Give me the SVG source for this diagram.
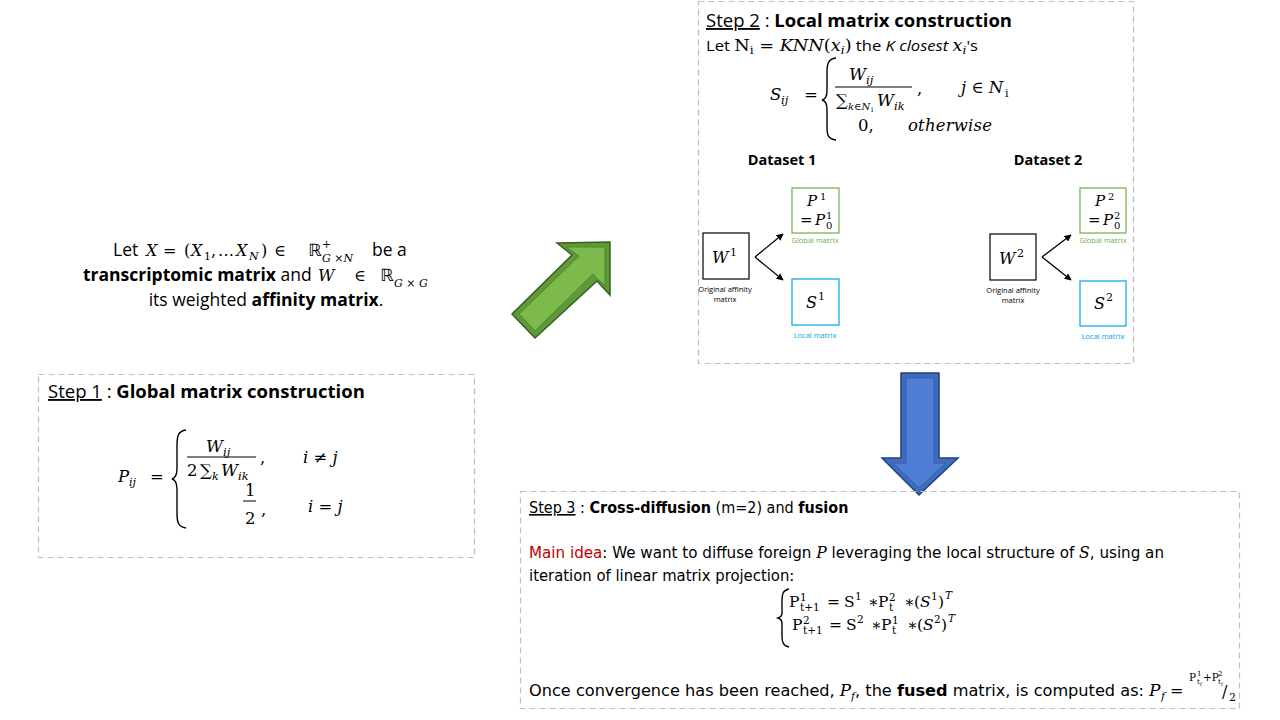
<svg xmlns="http://www.w3.org/2000/svg" width="1280" height="720" viewBox="0 0 1280 720">
<defs>
<style>
.frame{fill:none;stroke:#bfbfbf;stroke-width:1.2;stroke-dasharray:6 4}
.sans{font-family:"Open Sans","Noto Sans","Liberation Sans",sans-serif;fill:#000}
.narrow{font-family:"Liberation Sans Narrow","DejaVu Sans Condensed","Liberation Sans",sans-serif;font-stretch:condensed;fill:#000}
.math{font-family:"DejaVu Serif","Liberation Serif",serif;fill:#000}
.ds{font-family:"DejaVu Sans","Liberation Sans",sans-serif}
.it{font-style:italic}
.b{font-weight:bold}
.u{text-decoration:underline}
.brace{fill:none;stroke:#000;stroke-width:1.4}
.frac{stroke:#000;stroke-width:1}
.box{fill:#fff;stroke:#000;stroke-width:1.2}
.gbox{fill:#fff;stroke:#70ad47;stroke-width:1.2}
.bbox{fill:#fff;stroke:#00a2e8;stroke-width:1.2}
.lbl{font-family:"Open Sans","Noto Sans","Liberation Sans",sans-serif;font-size:7.5px;text-anchor:middle}
.conn{stroke:#000;stroke-width:1.3;fill:none;marker-end:url(#ah)}
</style>
<marker id="ah" viewBox="0 0 10 10" refX="9" refY="5" markerWidth="7" markerHeight="7" orient="auto" markerUnits="userSpaceOnUse">
<path d="M0,0 L10,5 L0,10 z" fill="#000"/>
</marker>
</defs>
<rect width="1280" height="720" fill="#fff"/>

<!-- Intro text -->
<g id="intro">
<text class="sans" x="113" y="256" font-size="17.5">Let</text>
<g class="math" font-size="16">
<text class="it" x="146" y="256">X</text>
<text x="163" y="256">=</text>
<text x="184" y="256">(</text>
<text class="it" x="191" y="256">X</text>
<text x="204" y="260" font-size="11">1</text>
<text x="211" y="256">,</text>
<text x="218" y="256">…</text>
<text class="it" x="236" y="256">X</text>
<text class="it" x="249" y="260" font-size="11">N</text>
<text x="261" y="256">)</text>
<text x="274" y="256">∈</text>
<text class="ds" x="308" y="256" font-size="17">ℝ</text>
<text x="322" y="248" font-size="11">+</text>
<text class="it" x="322" y="262" font-size="11">G ×N</text>
</g>
<text class="sans" x="372" y="256" font-size="17.5">be a</text>
<text class="sans" x="83" y="281" font-size="17.5"><tspan class="b">transcriptomic matrix</tspan> and</text>
<g class="math" font-size="16">
<text class="it" x="318" y="281">W</text>
<text x="354" y="281">∈</text>
<text class="ds" x="380" y="281" font-size="17">ℝ</text>
<text class="it" x="394" y="287" font-size="11">G × G</text>
</g>
<text class="sans" x="266" y="306" font-size="17.5" text-anchor="middle">its weighted  <tspan class="b">affinity matrix</tspan>.</text>
</g>

<!-- Block arrows -->
<g id="green-arrow">
<polygon points="557,243 610,242 610,295 597,281 535,338 512,314 572,255" fill="#5f9a3a" stroke="#36601d" stroke-width="1.5"/>
<polygon points="566,247 605,247 605,286 593,274 535,331 519,314 579,256" fill="#7cba4c" stroke="#4f8430" stroke-width="1"/>
</g>
<g id="blue-arrow">
<polygon points="901,373 939,373 939,458 958,458 919,495 882,458 901,458" fill="#3f6dbd" stroke="#22427a" stroke-width="1.5"/>
<polygon points="906,378 934,378 934,463 946,463 919,488 893,463 906,463" fill="#4f7fd4" stroke="#3560a8" stroke-width="1"/>
</g>

<!-- Step 1 -->
<g id="step1">
<rect class="frame" x="38.5" y="374.5" width="436" height="183"/>
<text class="sans" x="48" y="398" font-size="18.5"><tspan class="u">Step 1</tspan> : <tspan class="b">Global matrix construction</tspan></text>
<g class="math" font-size="16.5">
<text class="it" x="118" y="482">P</text>
<text class="it" x="129" y="486" font-size="11">ij</text>
<text x="150" y="482">=</text>
<text class="it" x="206" y="452">W</text>
<text class="it" x="223" y="456" font-size="11.5">ij</text>
<text x="187" y="476">2</text>
<text x="200" y="476">∑</text>
<text class="it" x="212" y="480" font-size="11">k</text>
<text class="it" x="221" y="476">W</text>
<text class="it" x="238" y="480" font-size="11.5">ik</text>
<text x="260" y="463">,</text>
<text class="it" x="303" y="463">i ≠ j</text>
<text x="245" y="496">1</text>
<text x="245" y="524">2</text>
<text x="261" y="515">,</text>
<text class="it" x="308" y="512">i = j</text>
</g>
<path class="brace" d="M186,430 C178,431 177,436 177,446 L177,468 C177,474 176,478 172,479 C176,480 177,484 177,490 L177,513 C177,522 178,527 186,528"/>
<line class="frac" x1="187" y1="457" x2="256" y2="457"/>
<line class="frac" x1="243" y1="501" x2="256" y2="501"/>
</g>

<!-- Step 2 -->
<g id="step2">
<rect class="frame" x="698.5" y="1.5" width="435" height="362"/>
<text class="sans" x="706" y="27" font-size="18.5"><tspan class="u">Step 2</tspan> : <tspan class="b">Local matrix construction</tspan></text>
<text class="sans" x="706" y="51" font-size="15" textLength="272" lengthAdjust="spacingAndGlyphs">Let <tspan class="math" font-size="16">N</tspan><tspan class="math" font-size="11" dy="3">i</tspan><tspan class="math" font-size="16" dy="-3"> = </tspan><tspan class="math it" font-size="16">KNN</tspan><tspan class="math" font-size="16">(</tspan><tspan class="math it" font-size="16">x</tspan><tspan class="math it" font-size="11" dy="3">i</tspan><tspan class="math" font-size="16" dy="-3">)</tspan> the <tspan class="it">K closest </tspan><tspan class="math it" font-size="16">x</tspan><tspan class="math it" font-size="11" dy="3">i</tspan><tspan dy="-3">'s</tspan></text>
<g class="math" font-size="16.5">
<text class="it" x="770" y="100">S</text>
<text class="it" x="781" y="104" font-size="11.5">ij</text>
<text x="804" y="100">=</text>
<text class="it" x="849" y="80">W</text>
<text class="it" x="866" y="84" font-size="11.5">ij</text>
<text x="836" y="106">∑</text>
<text class="it" x="848" y="110" font-size="10">k∈N</text>
<text x="871" y="112" font-size="7">i</text>
<text class="it" x="877" y="106">W</text>
<text class="it" x="894" y="110" font-size="11.5">ik</text>
<text x="917" y="94">,</text>
<text class="it" x="961" y="93">j ∈ N</text>
<text x="1005" y="97" font-size="11">i</text>
<text x="858" y="131">0,</text>
<text class="it" x="908" y="131" textLength="84">otherwise</text>
</g>
<path class="brace" d="M836,58 C828,59 827,64 827,73 L827,91 C827,96 826,99 822,100 C826,101 827,104 827,109 L827,127 C827,135 828,139 836,140"/>
<line class="frac" x1="835" y1="87" x2="912" y2="87"/>
<text class="sans b" x="782" y="165" font-size="14.5" text-anchor="middle">Dataset 1</text>
<text class="sans b" x="1048" y="165" font-size="14.5" text-anchor="middle">Dataset 2</text>
</g>

<g id="W1">
<rect class="box" x="703" y="233" width="46" height="46"/>
<text class="math it" x="712" y="263" font-size="16">W</text><text class="math" x="730" y="256" font-size="11">1</text>
<text class="lbl" x="725" y="292">Original affinity</text>
<text class="lbl" x="725" y="302">matrix</text>
</g>
<g id="P1">
<rect class="gbox" x="792" y="188" width="47" height="45"/>
<text class="math it" x="807" y="206" font-size="15">P</text><text class="math" x="820" y="200" font-size="10">1</text>
<text class="math" x="800" y="225" font-size="15">=</text><text class="math it" x="815" y="225" font-size="15">P</text><text class="math" x="826" y="219" font-size="10">1</text><text class="math" x="826" y="229" font-size="10">0</text>
<text class="lbl" x="815" y="243" fill="#70ad47">Global matrix</text>
</g>
<g id="S1">
<rect class="bbox" x="792" y="279" width="47" height="46"/>
<text class="math it" x="806" y="308" font-size="16">S</text><text class="math" x="818" y="300" font-size="11">1</text>
<text class="lbl" x="815" y="338" fill="#00a2e8">Local matrix</text>
</g>
<g id="W2">
<rect class="box" x="990" y="234" width="46" height="46"/>
<text class="math it" x="999" y="264" font-size="16">W</text><text class="math" x="1017" y="257" font-size="11">2</text>
<text class="lbl" x="1013" y="293">Original affinity</text>
<text class="lbl" x="1013" y="303">matrix</text>
</g>
<g id="P2">
<rect class="gbox" x="1080" y="188" width="46" height="45"/>
<text class="math it" x="1095" y="206" font-size="15">P</text><text class="math" x="1108" y="200" font-size="10">2</text>
<text class="math" x="1088" y="225" font-size="15">=</text><text class="math it" x="1103" y="225" font-size="15">P</text><text class="math" x="1114" y="219" font-size="10">2</text><text class="math" x="1114" y="229" font-size="10">0</text>
<text class="lbl" x="1103" y="243" fill="#70ad47">Global matrix</text>
</g>
<g id="S2">
<rect class="bbox" x="1080" y="281" width="46" height="45"/>
<text class="math it" x="1094" y="309" font-size="16">S</text><text class="math" x="1106" y="301" font-size="11">2</text>
<text class="lbl" x="1103" y="339" fill="#00a2e8">Local matrix</text>
</g>

<g id="connectors">
<path class="conn" d="M755,257 L783,234"/>
<path class="conn" d="M755,257 L783,280"/>
<path class="conn" d="M1042,257 L1071,235"/>
<path class="conn" d="M1042,257 L1071,280"/>
</g>

<!-- Step 3 -->
<g id="step3">
<rect class="frame" x="520.5" y="491.5" width="719" height="217"/>
<text class="narrow" x="529" y="513" font-size="16"><tspan class="u">Step 3</tspan> :  <tspan class="b">Cross-diffusion</tspan> (m=2) and <tspan class="b">fusion</tspan></text>
<text class="narrow" x="529" y="558" font-size="16.5" textLength="635" lengthAdjust="spacingAndGlyphs"><tspan fill="#c00000">Main idea</tspan>: We want to diffuse foreign <tspan class="math it" font-size="17">P</tspan> leveraging the local structure of <tspan class="math it" font-size="17">S</tspan>, using an</text>
<text class="narrow" x="529" y="581" font-size="16.5">iteration of linear matrix projection:</text>
<path class="brace" d="M789,589 C783,590 782,594 782,601 L782,613 C782,616 781,617 778,618 C781,619 782,620 782,623 L782,635 C782,642 783,646 789,647"/>
<g class="math" font-size="15.5">
<text x="789" y="607">P</text><text x="800" y="601" font-size="10.5">1</text><text x="800" y="611" font-size="10.5">t+1</text>
<text x="827" y="607">=</text>
<text x="844" y="607">S</text><text x="855" y="600" font-size="10.5">1</text>
<text x="868" y="607">∗</text>
<text x="878" y="607">P</text><text x="889" y="601" font-size="10.5">2</text><text x="889" y="611" font-size="10.5">t</text>
<text x="904" y="607">∗</text>
<text x="914" y="607">(</text><text class="it" x="920" y="607">S</text><text x="931" y="600" font-size="10.5">1</text><text x="938" y="607">)</text><text class="it" x="945" y="599" font-size="10.5">T</text>
<text x="792" y="630">P</text><text x="803" y="624" font-size="10.5">2</text><text x="803" y="634" font-size="10.5">t+1</text>
<text x="829" y="630">=</text>
<text x="846" y="630">S</text><text x="857" y="623" font-size="10.5">2</text>
<text x="871" y="630">∗</text>
<text x="881" y="630">P</text><text x="892" y="624" font-size="10.5">1</text><text x="892" y="634" font-size="10.5">t</text>
<text x="907" y="630">∗</text>
<text x="917" y="630">(</text><text class="it" x="923" y="630">S</text><text x="934" y="623" font-size="10.5">2</text><text x="941" y="630">)</text><text class="it" x="948" y="622" font-size="10.5">T</text>
</g>
<text class="narrow" x="529" y="696" font-size="16.5" textLength="615" lengthAdjust="spacingAndGlyphs">Once convergence has been reached, <tspan class="math it" font-size="17">P</tspan><tspan class="math it" font-size="11" dy="4">f</tspan><tspan dy="-4">, the </tspan><tspan class="b">fused</tspan> matrix, is computed as:</text>
<g class="math">
<text class="it" x="1149" y="696" font-size="17">P</text><text class="it" x="1161" y="700" font-size="11">f</text>
<text x="1170" y="696" font-size="16">=</text>
<text x="1189" y="681" font-size="10.5">P</text><text x="1197" y="676" font-size="7">1</text><text x="1197" y="684" font-size="7">t</text><text x="1200" y="686" font-size="5">f</text>
<text x="1203" y="681" font-size="10.5">+P</text><text x="1218" y="676" font-size="7">2</text><text x="1218" y="684" font-size="7">t</text><text x="1221" y="686" font-size="5">f</text>
<text x="1222" y="697" font-size="16">/</text>
<text x="1229" y="701" font-size="11">2</text>
</g>
</g>
</svg>
